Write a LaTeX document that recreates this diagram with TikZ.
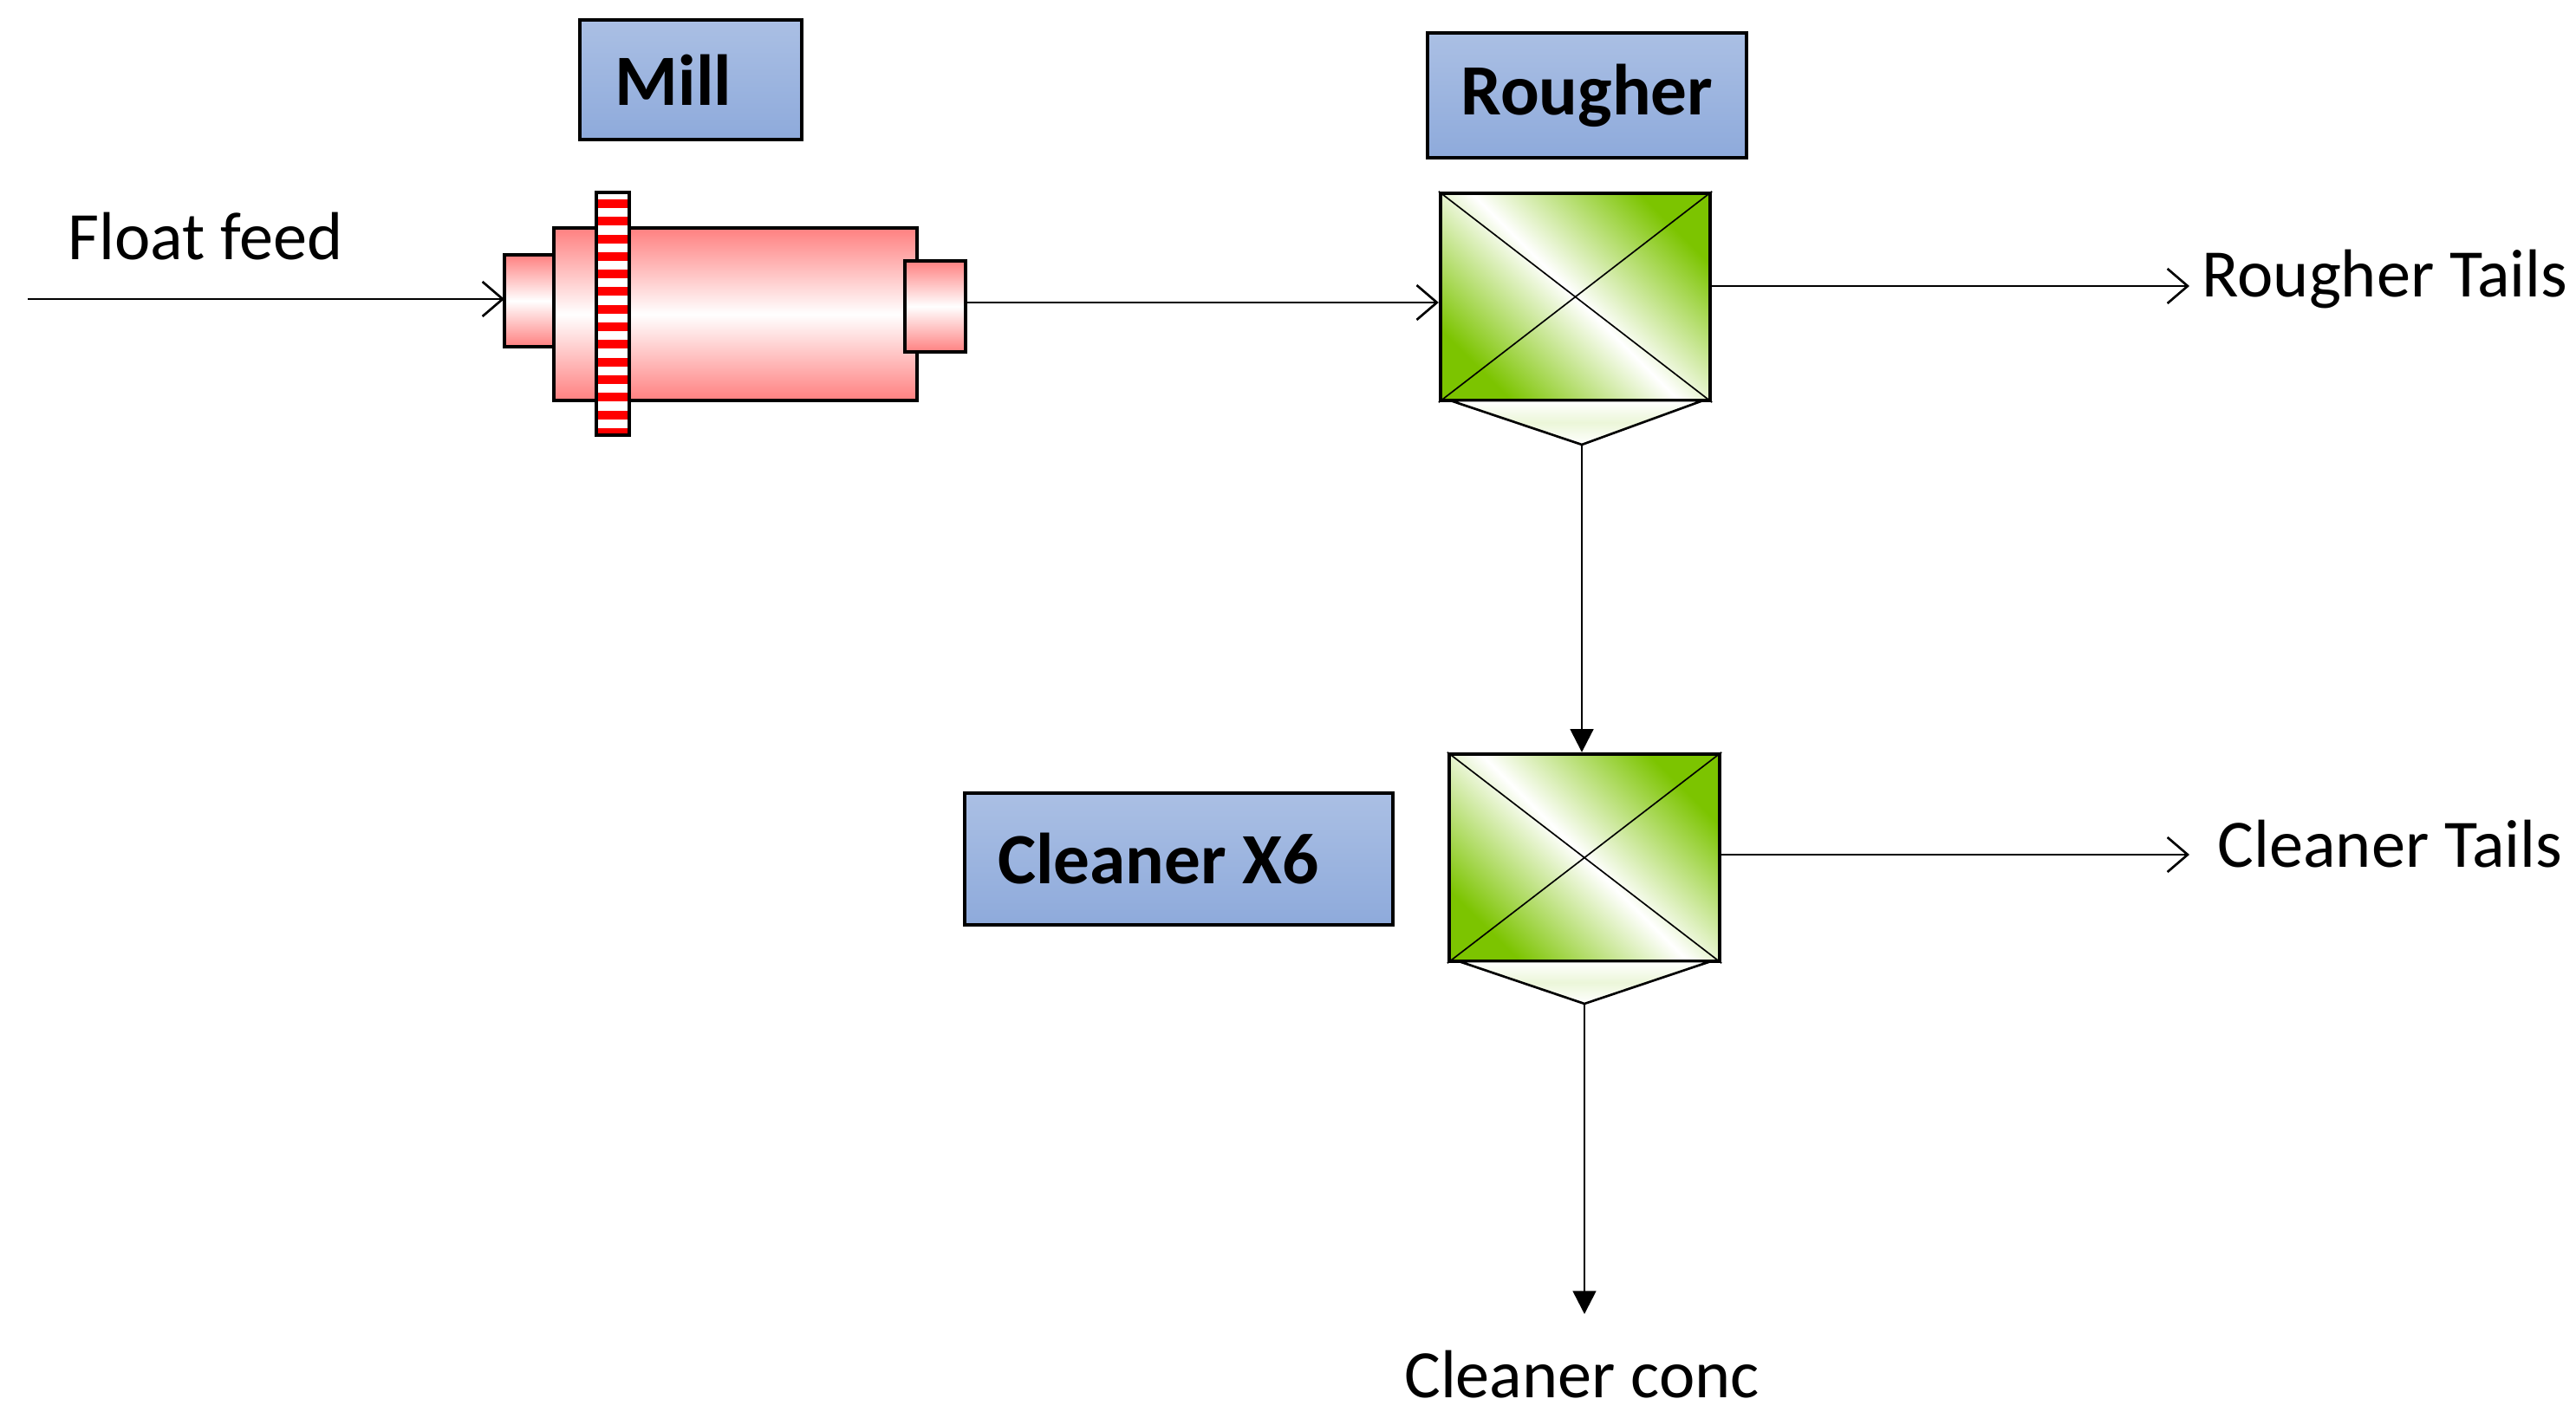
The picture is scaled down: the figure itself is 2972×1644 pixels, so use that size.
\documentclass[tikz,border=0pt]{standalone}
\usepackage{fontspec}
\setmainfont{Carlito}
\usetikzlibrary{arrows.meta,shadings}
\definecolor{lbl}{HTML}{8EAADB}
\definecolor{pinkc}{HTML}{FF8080}
\definecolor{grn}{HTML}{7CC400}
\begin{document}
\begin{tikzpicture}[x=0.3pt,y=-0.3pt,
  lbox/.style={draw,line width=1pt,top color=lbl!75,bottom color=lbl,inner sep=0,font=\bfseries\fontsize{25}{27}\selectfont},
  cell/.style={draw,line width=1.3pt,inner sep=0,shading=axis,top color=grn,bottom color=grn,middle color=white,shading angle=-45},
  pinkp/.style={draw,line width=1.1pt,top color=pinkc,bottom color=pinkc,middle color=white},
  flow/.style={line width=0.8pt,-{Straight Barb[length=7pt,width=12pt]}},
  down/.style={line width=0.8pt,-{Triangle[length=8pt,width=8pt]}},
  txt/.style={font=\fontsize{23.5}{26}\selectfont,inner sep=0}]
\useasboundingbox (0,0) rectangle (2972,1644);
% label boxes
\node[lbox,minimum width=256*0.3pt,minimum height=138*0.3pt] (millL) at (797,92) {\hspace*{-12pt}Mill};
\node[lbox,minimum width=368*0.3pt,minimum height=144*0.3pt] (roughL) at (1831,110) {Rougher};
\node[lbox,minimum width=494*0.3pt,minimum height=152*0.3pt] (cleanL) at (1360,991) {\hspace*{-14pt}Cleaner X6};
% mill
\draw[pinkp] (582,294) rectangle (639,400);
\draw[pinkp] (639,263) rectangle (1058,462);
\draw[pinkp] (1044,301) rectangle (1114,406);
\fill[white] (688,222) rectangle (726,502);
\foreach \i in {0,...,13} {\fill[red] (688,230+\i*20.3) rectangle (726,240+\i*20.3);}
\draw[line width=1.1pt] (688,222) rectangle (726,502);
\coordinate (millin) at (582,345);
\coordinate (millout) at (1114,349);
% rougher cell
\node[cell,minimum width=311*0.3pt,minimum height=239*0.3pt] (rough) at (1817.5,342.5) {};
\draw[draw=black,line width=0.8pt,top color=white,bottom color=white,middle color=grn!15] (1673,462) -- (1965,462) -- (1825,513) -- cycle;
\draw[line width=0.5pt] (rough.north west) -- (rough.south east) (rough.north east) -- (rough.south west);
\coordinate (rbot) at (1825,513);
% cleaner cell
\node[cell,minimum width=312*0.3pt,minimum height=239*0.3pt] (clean) at (1828,989.5) {};
\draw[draw=black,line width=0.8pt,top color=white,bottom color=white,middle color=grn!15] (1683,1109) -- (1974,1109) -- (1828,1158) -- cycle;
\draw[line width=0.5pt] (clean.north west) -- (clean.south east) (clean.north east) -- (clean.south west);
\coordinate (cbot) at (1828,1158);
% flows
\coordinate (feed) at (32,345);
\draw[flow] (feed) -- (millin);
\node[txt,anchor=base west] (feedT) at (78,300) {Float feed};
\draw[flow] (millout) -- (rough.west |- millout);
\coordinate (rtend) at (2526,330);
\draw[flow] (rough.east |- rtend) -- (rtend);
\node[txt,anchor=base west] (rtT) at (2540,343) {Rougher Tails};
\draw[down] (rbot) -- (rbot |- clean.north);
\coordinate (ctend) at (2526,986);
\draw[flow] (clean.east |- ctend) -- (ctend);
\node[txt,anchor=base west] (ctT) at (2558,1000) {Cleaner Tails};
\coordinate (ccend) at (1828,1516);
\draw[down] (cbot) -- (ccend);
\node[txt,anchor=base] (ccT) at (1825,1612) {Cleaner conc};
\end{tikzpicture}
\end{document}
